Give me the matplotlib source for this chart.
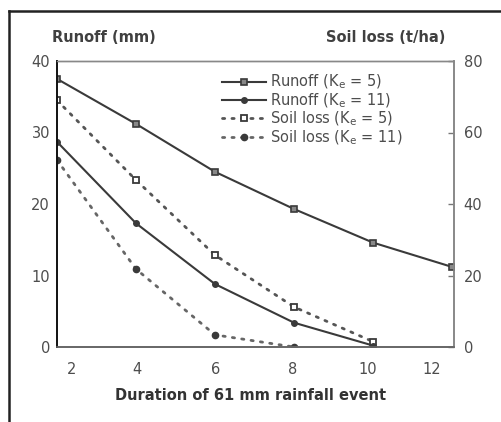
import matplotlib
matplotlib.use("Agg")
import matplotlib.pyplot as plt
from matplotlib.lines import Line2D

# ---- data ----
duration = [2, 4, 6, 8, 10, 12]
runoff_k5 = [37.5, 31.2, 24.5, 19.3, 14.6, 11.2]
runoff_k11 = [28.7, 17.3, 8.8, 3.4, 0.2]
soil_k5 = [69.0, 46.7, 25.7, 11.2, 1.5]
soil_k11 = [52.3, 21.8, 3.4, 0.0]

x_tick_labels = ['2', '4', '6', '8', '10', '12']
y_left_ticks = [0, 10, 20, 30, 40]
y_right_ticks = [0, 20, 40, 60, 80]

legend_labels = [r'Runoff (K$_\mathregular{e}$ = 5)',
                 r'Runoff (K$_\mathregular{e}$ = 11)',
                 r'Soil loss (K$_\mathregular{e}$ = 5)',
                 r'Soil loss (K$_\mathregular{e}$ = 11)']

# ---- styling ----
plt.rcParams['font.family'] = ['DejaVu Sans']
plt.rcParams['mathtext.fontset'] = 'dejavusans'
line_col = '#3a3a3a'
txt_col = '#4d4d4d'

fig = plt.figure(figsize=(5.01, 4.22), dpi=100)
W, H = 501, 422
ax = fig.add_axes([57 / W, (H - 347) / H, (454 - 57) / W, (347 - 61) / H])
ax2 = ax.twinx()

dot_ls = (0, (0.8, 2.6))

l1, = ax.plot(duration, runoff_k5, color=line_col, lw=1.5, marker='s', ms=4.5,
              mfc='#888888', mec=line_col, mew=1.2)
l2, = ax.plot(duration[:len(runoff_k11)], runoff_k11, color=line_col, lw=1.5,
              marker='o', ms=4, mfc=line_col, mec=line_col)
l3, = ax2.plot(duration[:len(soil_k5)], soil_k5, color='#555555', lw=2.0,
               ls=dot_ls, dash_capstyle='round', marker='s', ms=5,
               mfc='white', mec=line_col, mew=1.3)
l4, = ax2.plot(duration[:len(soil_k11)], soil_k11, color='#666666', lw=2.0,
               ls=dot_ls, dash_capstyle='round', marker='o', ms=4.5,
               mfc=line_col, mec=line_col)

ax.set_xlim(2, 12.05)
ax.set_ylim(0, 40)
ax2.set_ylim(0, 80)

# tick labels placed as in the reference scan
px_per_unit = (452 - 57) / 10.0
label_px = [72, 137, 216, 293, 368, 432]
ax.set_xticks([2 + (p - 57) / px_per_unit for p in label_px])
ax.set_xticklabels(x_tick_labels)
ax.set_yticks(y_left_ticks)
ax2.set_yticks(y_right_ticks)

ax.tick_params(axis='x', length=0, pad=11, labelsize=10.5, labelcolor=txt_col)
ax.tick_params(axis='y', length=0, pad=5, labelsize=10.5, labelcolor=txt_col)
ax2.tick_params(axis='y', direction='in', length=4, width=1, color='#777777',
                pad=7, labelsize=10.5, labelcolor=txt_col)

for a in (ax, ax2):
    a.spines['left'].set_color('#111111')
    a.spines['left'].set_linewidth(1.4)
    a.spines['top'].set_color('#888888')
    a.spines['top'].set_linestyle((0, (1, 1)))
    a.spines['top'].set_linewidth(1.0)
    a.spines['right'].set_color('#888888')
    a.spines['right'].set_linewidth(1.2)
    a.spines['bottom'].set_color('#666666')
    a.spines['bottom'].set_linewidth(1.2)
ax2.spines['left'].set_visible(False)

ax.set_zorder(ax2.get_zorder() + 1)
ax.patch.set_visible(False)

# headings
fig.text(104 / W, 1 - 37 / H, 'Runoff (mm)', ha='center', va='center',
         fontsize=10.5, fontweight='bold', color='#404040')
fig.text(386 / W, 1 - 37 / H, 'Soil loss (t/ha)', ha='center', va='center',
         fontsize=10.5, fontweight='bold', color='#404040')
fig.text(251 / W, 1 - 396 / H, 'Duration of 61 mm rainfall event', ha='center',
         va='center', fontsize=10.5, fontweight='bold', color='#333333')

leg = ax.legend([l1, l2, l3, l4], legend_labels, loc='upper left',
                bbox_to_anchor=((222 - 57) / (454 - 57), 1 - (73 - 61) / (347 - 61)),
                frameon=False, fontsize=10.5, handlelength=3.0,
                handletextpad=0.3, labelspacing=0.0, borderaxespad=0,
                borderpad=0)
for t in leg.get_texts():
    t.set_color(txt_col)

# scan frame: top and left border
fig.add_artist(Line2D([9 / W, 1], [1 - 11 / H, 1 - 11 / H], color='#222222', lw=1.8,
                      transform=fig.transFigure))
fig.add_artist(Line2D([9 / W, 9 / W], [0, 1 - 11 / H], color='#222222', lw=1.8,
                      transform=fig.transFigure))

fig.savefig('out.png', dpi=100)
